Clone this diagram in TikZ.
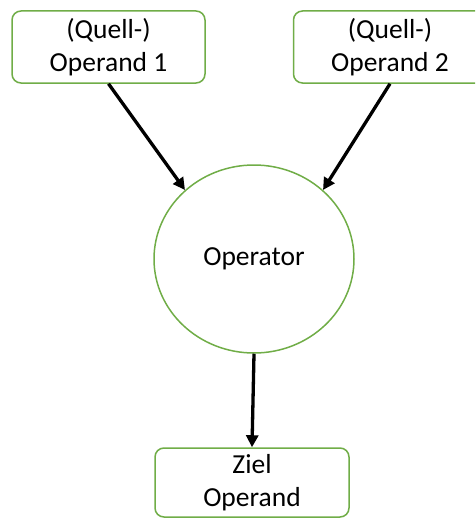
\documentclass[tikz,border=0pt]{standalone}
\usepackage{fontspec}
\setmainfont{Carlito}
\usetikzlibrary{shapes.geometric,arrows.meta}
\definecolor{offgreen}{HTML}{70AD47}
\tikzset{
  opbox/.style={draw=offgreen, line width=1.5pt, rounded corners=9pt, fill=white,
    minimum width=193pt, minimum height=72pt, align=center, inner sep=0pt,
    font=\fontsize{27.5}{33}\selectfont},
  opcirc/.style={draw=offgreen, line width=1.5pt, ellipse, minimum width=200pt, minimum height=188pt,
    inner sep=0pt, font=\fontsize{27.5}{33}\selectfont},
  conn/.style={line width=3.3pt, -{Triangle[length=12pt,width=12pt]}}
}
\begin{document}
\begin{tikzpicture}[x=1pt,y=-1pt]
\useasboundingbox (0,0) rectangle (475,519);
\begin{scope}
\clip (0,0) rectangle (475,519);
\node[opbox] (op1) at (108.5,47) {(Quell-)\\Operand 1};
\node[opbox] (op2) at (390,47) {(Quell-)\\Operand 2};
\node[opcirc] (opr) at (254,259) {Operator};
\node[opbox, minimum width=194pt, minimum height=69pt] (ziel) at (252,482.5) {Ziel\\Operand};
\draw[conn] (op1.south) -- (opr.135);
\draw[conn] (op2.south) -- (opr.45);
\draw[conn] (opr.south) -- (ziel.north);
\end{scope}
\end{tikzpicture}
\end{document}
